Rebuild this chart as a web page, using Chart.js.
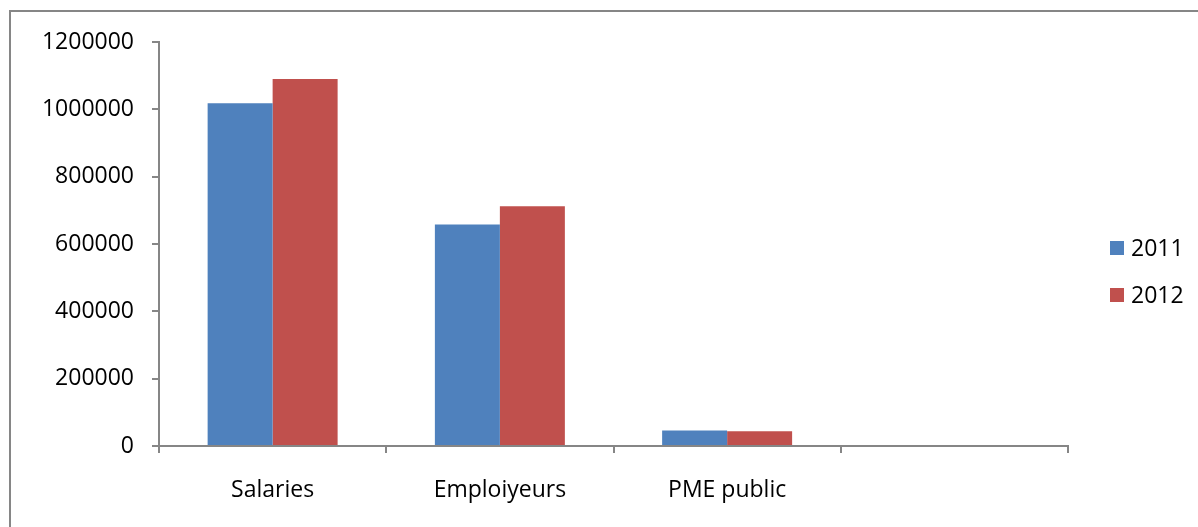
<!DOCTYPE html>
<html>
<head>
<meta charset="utf-8">
<script src="https://cdn.jsdelivr.net/npm/chart.js@4.4.0/dist/chart.umd.min.js"></script>
<style>
html,body{margin:0;padding:0;background:#fff;}
#wrap{width:1198px;height:527px;position:relative;}
</style>
</head>
<body>
<div id="wrap"><canvas id="c" width="1198" height="527"></canvas></div>
<script>
const categories = ['Salaries', 'Emploiyeurs', 'PME public', ''];
const values2011 = [1018000, 658000, 46000, null];
const values2012 = [1090000, 712000, 44000, null];
const seriesLabels = ['2011', '2012'];
const yTicks = [0, 200000, 400000, 600000, 800000, 1000000, 1200000];

const FONT = '"Open Sans", sans-serif';
const AXIS = '#868686';

const frame = {
  id: 'frame',
  beforeDraw(chart) {
    const ctx = chart.ctx;
    ctx.save();
    ctx.fillStyle = '#fff';
    ctx.fillRect(0, 0, chart.width, chart.height);
    ctx.strokeStyle = AXIS;
    ctx.lineWidth = 2;
    ctx.strokeRect(10, 11, 1400, 700);
    ctx.restore();
  }
};

const sideLegend = {
  id: 'sideLegend',
  afterDraw(chart) {
    const ctx = chart.ctx;
    ctx.save();
    ctx.font = '23px ' + FONT;
    ctx.textBaseline = 'middle';
    chart.data.datasets.forEach((ds, i) => {
      const cy = 248 + i * 47;
      ctx.fillStyle = ds.backgroundColor;
      ctx.fillRect(1110, cy - 7, 14, 14);
      ctx.fillStyle = '#000';
      ctx.fillText(ds.label, 1131, cy + 1);
    });
    ctx.restore();
  }
};

new Chart(document.getElementById('c'), {
  type: 'bar',
  data: {
    labels: categories,
    datasets: [
      { label: seriesLabels[0], data: values2011, backgroundColor: '#4F81BD' },
      { label: seriesLabels[1], data: values2012, backgroundColor: '#C0504D' }
    ]
  },
  options: {
    responsive: false,
    animation: false,
    devicePixelRatio: 1,
    layout: { padding: { left: 0, top: 42, right: 130, bottom: 0 } },
    datasets: { bar: { categoryPercentage: 0.572, barPercentage: 1.0 } },
    plugins: { legend: { display: false }, tooltip: { enabled: false } },
    scales: {
      x: {
        offset: true,
        grid: { offset: true, drawOnChartArea: false, drawTicks: true, tickLength: 7, color: AXIS, lineWidth: 2 },
        border: { display: true, color: AXIS, width: 2 },
        ticks: { color: '#000', font: { family: FONT, size: 23 }, padding: 24, maxRotation: 0 },
        afterFit(scale) { scale.height = 81; }
      },
      y: {
        min: 0, max: 1200000,
        afterBuildTicks(scale) { scale.ticks = yTicks.map(v => ({ value: v })); },
        grid: { drawOnChartArea: false, drawTicks: true, tickLength: 7, color: AXIS, lineWidth: 2 },
        border: { display: true, color: AXIS, width: 2 },
        ticks: { color: '#000', font: { family: FONT, size: 23 }, padding: 18, callback: v => String(v) },
        afterFit(scale) { scale.width = 159; }
      }
    }
  },
  plugins: [frame, sideLegend]
});
</script>
</body>
</html>
